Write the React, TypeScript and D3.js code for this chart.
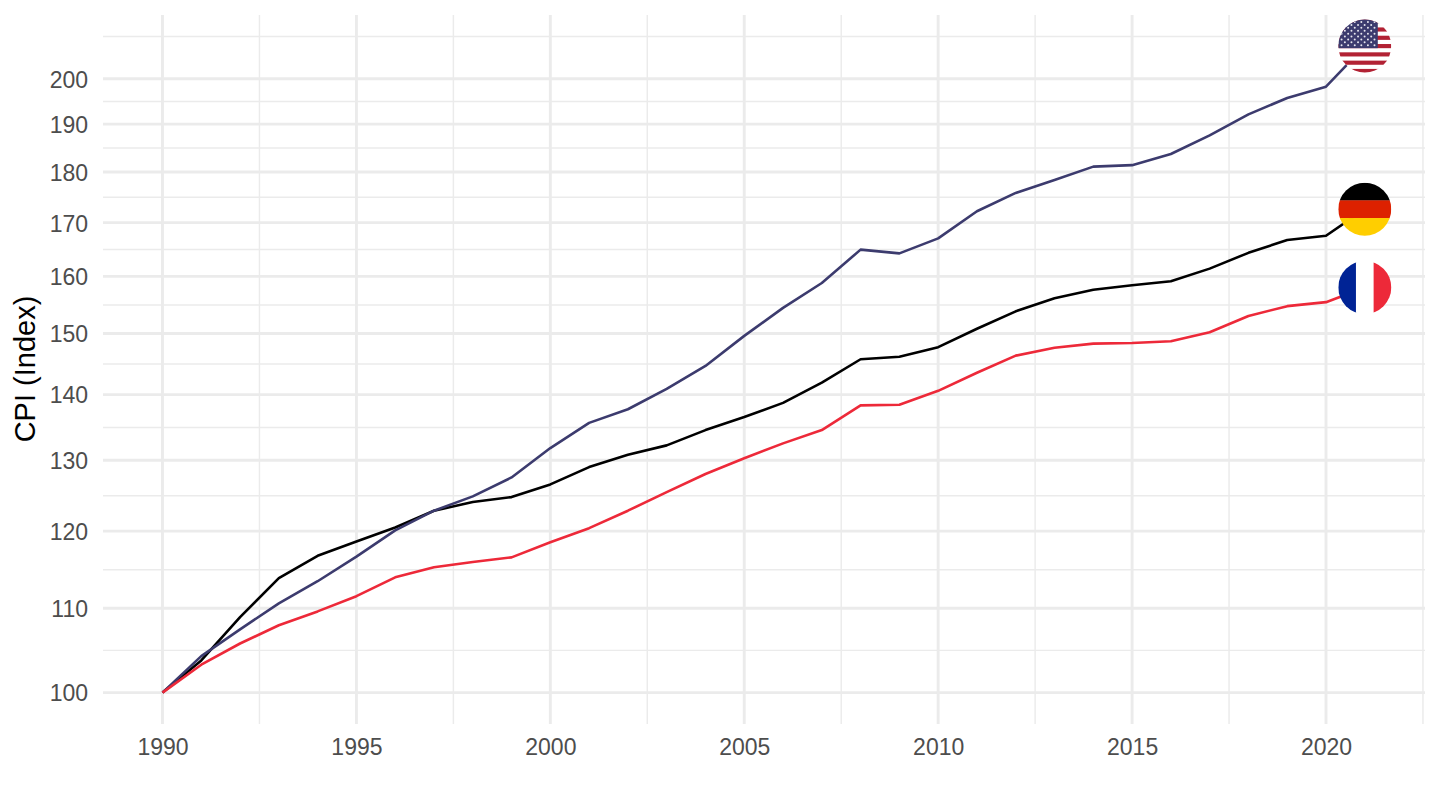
import { useEffect, useRef } from "react"
import * as d3 from "d3"

const years = d3.range(1990, 2022)
const usa = [100, 104.2, 107.4, 110.6, 113.4, 116.6, 120.1, 122.8, 124.8, 127.5, 131.8, 135.6, 137.7, 140.9, 144.6, 149.6, 154.4, 158.8, 164.9, 164.2, 167, 172.2, 175.8, 178.4, 181.1, 181.4, 183.7, 187.6, 192.1, 195.7, 198.2, 207.5]
const germany = [100, 103.7, 108.9, 113.8, 116.7, 118.6, 120.5, 122.8, 124, 124.7, 126.5, 129, 130.8, 132.2, 134.5, 136.5, 138.7, 141.9, 145.7, 146.1, 147.7, 150.8, 153.8, 156.1, 157.6, 158.4, 159.1, 161.4, 164.3, 166.7, 167.5, 172.6]
const france = [100, 103.2, 105.7, 107.9, 109.6, 111.5, 113.9, 115.2, 115.9, 116.5, 118.5, 120.4, 122.8, 125.4, 128, 130.3, 132.5, 134.5, 138.3, 138.4, 140.6, 143.5, 146.3, 147.6, 148.3, 148.4, 148.7, 150.2, 153, 154.7, 155.4, 158]

const yTicks = [100, 110, 120, 130, 140, 150, 160, 170, 180, 190, 200]
const xTicks = [1990, 1995, 2000, 2005, 2010, 2015, 2020]
const xMinor = [1992.5, 1997.5, 2002.5, 2007.5, 2012.5, 2017.5, 2022.5]

const W = 1440
const H = 810
const panel = { left: 103, right: 1425, top: 15, bottom: 724 }
const FONT = '"Liberation Sans", Arial, sans-serif'
const R = 26.5

export default function App() {
  const svgRef = useRef<SVGSVGElement>(null)

  useEffect(() => {
    if (!svgRef.current) return
    const svg = d3.select(svgRef.current)
    svg.selectAll("*").remove()

    const x = d3.scaleLinear().domain([1990, 2020]).range([162.5, 1326])
    const y = d3.scaleLog().domain([100, 200]).range([692.6, 78.7])

    // minor breaks sit halfway between majors on the log scale
    const yMinor = d3.pairs(yTicks).map(([a, b]) => Math.sqrt(a * b))
    yMinor.push(200 * Math.sqrt(1.1))

    const grid = svg.append("g").attr("stroke", "#ebebeb").attr("fill", "none")
    grid.selectAll("line.ymin").data(yMinor).join("line").attr("class", "ymin")
      .attr("x1", panel.left).attr("x2", panel.right)
      .attr("y1", d => y(d)).attr("y2", d => y(d)).attr("stroke-width", 1.45)
    grid.selectAll("line.xmin").data(xMinor).join("line").attr("class", "xmin")
      .attr("y1", panel.top).attr("y2", panel.bottom)
      .attr("x1", d => x(d)).attr("x2", d => x(d)).attr("stroke-width", 1.45)
    grid.selectAll("line.ymaj").data(yTicks).join("line").attr("class", "ymaj")
      .attr("x1", panel.left).attr("x2", panel.right)
      .attr("y1", d => y(d)).attr("y2", d => y(d)).attr("stroke-width", 2.9)
    grid.selectAll("line.xmaj").data(xTicks).join("line").attr("class", "xmaj")
      .attr("y1", panel.top).attr("y2", panel.bottom)
      .attr("x1", d => x(d)).attr("x2", d => x(d)).attr("stroke-width", 2.9)

    const axisX = svg.append("g").attr("transform", `translate(0,${panel.bottom})`)
      .call(d3.axisBottom(x).tickValues(xTicks).tickFormat(d3.format("d")).tickSize(0).tickPadding(15))
    const axisY = svg.append("g").attr("transform", `translate(${panel.left},1)`)
      .call(d3.axisLeft(y).tickValues(yTicks).tickFormat(d3.format("d")).tickSize(0).tickPadding(15))
    for (const a of [axisX, axisY]) {
      a.select(".domain").remove()
      a.selectAll("text").attr("fill", "#4d4d4d").style("font-family", FONT).style("font-size", "23px")
    }

    svg.append("text")
      .attr("transform", `translate(35,369) rotate(-90)`)
      .attr("text-anchor", "middle")
      .style("font-family", FONT).style("font-size", "29px").attr("fill", "#000")
      .text("CPI (Index)")

    const line = d3.line<number>().x((_, i) => x(years[i])).y(d => y(d))
    const series: [number[], string][] = [[germany, "#000000"], [usa, "#3c3b6e"], [france, "#ed2939"]]
    svg.append("g").selectAll("path").data(series).join("path")
      .attr("d", d => line(d[0]) || "")
      .attr("fill", "none").attr("stroke", d => d[1]).attr("stroke-width", 2.6)
      .attr("stroke-linejoin", "round")

    const cx = x(2021)
    const flag = (id: string, value: number) => {
      const cy = y(value)
      const defs = svg.append("defs")
      defs.append("clipPath").attr("id", id).append("circle").attr("cx", cx).attr("cy", cy).attr("r", R)
      return { g: svg.append("g").attr("clip-path", `url(#${id})`), cy }
    }

    // USA
    const us = flag("clip-us", usa[usa.length - 1])
    const stripeH = 4.15
    const top = us.cy - 6.5 * stripeH
    us.g.append("rect").attr("x", cx - R).attr("y", top).attr("width", 2 * R).attr("height", 13 * stripeH).attr("fill", "#fff")
    d3.range(0, 13, 2).forEach(i => {
      us.g.append("rect").attr("x", cx - R).attr("y", top + i * stripeH).attr("width", 2 * R).attr("height", stripeH).attr("fill", "#b22234")
    })
    const cantonW = 39.5
    us.g.append("rect").attr("x", cx - R).attr("y", top).attr("width", cantonW).attr("height", 7 * stripeH).attr("fill", "#3c3b6e")
    d3.range(9).forEach(row => {
      const n = row % 2 === 0 ? 6 : 5
      d3.range(n).forEach(c => {
        us.g.append("circle")
          .attr("cx", cx - R + (cantonW / 6) * (c + (row % 2 === 0 ? 0.5 : 1)))
          .attr("cy", top + (7 * stripeH / 10) * (row + 1))
          .attr("r", 1).attr("fill", "#e6e6ee")
      })
    })

    // Germany
    const de = flag("clip-de", germany[germany.length - 1])
    ;["#000000", "#dd2100", "#ffce00"].forEach((c, i) => {
      de.g.append("rect").attr("x", cx - R).attr("y", de.cy - R + (i * 2 * R) / 3)
        .attr("width", 2 * R).attr("height", (2 * R) / 3 + 0.3).attr("fill", c)
    })

    // France
    const fr = flag("clip-fr", france[france.length - 1])
    ;["#002395", "#ffffff", "#ed2939"].forEach((c, i) => {
      fr.g.append("rect").attr("x", cx - R + (i * 2 * R) / 3).attr("y", fr.cy - R)
        .attr("width", (2 * R) / 3 + 0.3).attr("height", 2 * R).attr("fill", c)
    })
  }, [])

  return (
    <svg
      ref={svgRef}
      width={W}
      height={H}
      viewBox={`0 0 ${W} ${H}`}
      style={{ position: "absolute", left: 0, top: 0, background: "#fff" }}
      role="img"
      aria-label="CPI index for USA, Germany and France, 1990 to 2021"
    />
  )
}
